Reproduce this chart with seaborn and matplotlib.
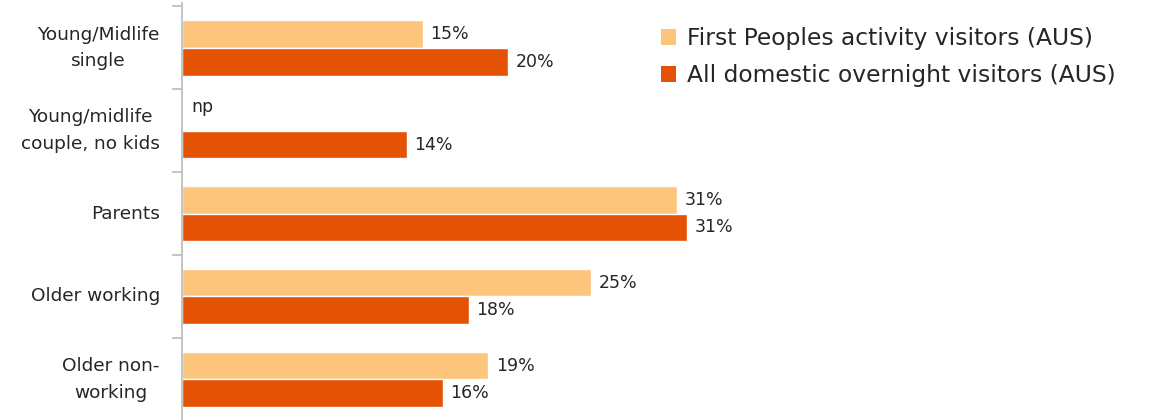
import matplotlib
matplotlib.use("Agg")
import matplotlib.pyplot as plt
import seaborn as sns
import pandas as pd
import numpy as np
from matplotlib.patches import Patch

categories = ["Young/Midlife\nsingle", "Young/midlife\ncouple, no kids", "Parents",
              "Older working", "Older non-\nworking"]
series_names = ["First Peoples activity visitors (AUS)", "All domestic overnight visitors (AUS)"]
first_peoples = [14.8, np.nan, 30.4, 25.1, 18.8]
all_domestic = [20.0, 13.8, 31.0, 17.6, 16.0]
first_labels = ["15%", "np", "31%", "25%", "19%"]
all_labels = ["20%", "14%", "31%", "18%", "16%"]
colors = ["#FDC47B", "#E35205"]

sns.set_theme(style="white")
plt.rcParams['font.family'] = ['DejaVu Sans']

df = pd.DataFrame({
    "category": categories * 2,
    "series": [series_names[0]] * 5 + [series_names[1]] * 5,
    "value": first_peoples + all_domestic,
})

fig = plt.figure(figsize=(11.68, 4.2), dpi=100)
ax = fig.add_axes([182 / 1168, 0.0, 1 - 182 / 1168, 1 - 3 / 420])

sns.barplot(data=df, y="category", x="value", hue="series", order=categories,
            hue_order=series_names, palette=colors, width=0.67, orient="h",
            saturation=1, ax=ax, legend=False)

ax.set_xlim(0, 60.5)
ax.set_ylim(4.49, -0.54)
ax.set_xlabel("")
ax.set_ylabel("")
ax.set_xticks([])
for s in ["top", "right", "bottom"]:
    ax.spines[s].set_visible(False)
ax.spines["left"].set_color("#BFBFBF")
ax.spines["left"].set_linewidth(1.3)

ax.set_yticks(range(len(categories)))
ax.set_yticklabels(categories, fontsize=13.3, color="#262626", linespacing=1.6)
ax.tick_params(axis="y", which="major", length=0, pad=16)
ax.set_yticks([i + 0.5 for i in range(-1, len(categories) - 1)], minor=True)
ax.tick_params(axis="y", which="minor", length=7, color="#BFBFBF", width=1.3, left=True)
for lbl in ax.get_yticklabels():
    lbl.set_horizontalalignment("right")
    lbl.set_verticalalignment("center")
    lbl.set_multialignment("center")

# value labels
vals = [first_peoples, all_domestic]
labs = [first_labels, all_labels]
offs = [-0.167, 0.167]
for k in range(2):
    for i, v in enumerate(vals[k]):
        x = 0.6 if np.isnan(v) else v + 0.45
        ax.text(x, i + offs[k] - 0.12 * (np.isnan(v)), labs[k][i], va="center", ha="left",
                fontsize=12.5, color="#262626")

handles = [Patch(facecolor=c, edgecolor="none") for c in colors]
leg = fig.legend(handles, series_names, loc="upper left", bbox_to_anchor=(640 / 1168, 1 - 6 / 420),
                 frameon=False, fontsize=16.8, handlelength=0.65, handleheight=0.65,
                 handletextpad=0.45, labelspacing=0.62)
for t in leg.get_texts():
    t.set_color("#262626")

fig.savefig("out.png", dpi=100)
